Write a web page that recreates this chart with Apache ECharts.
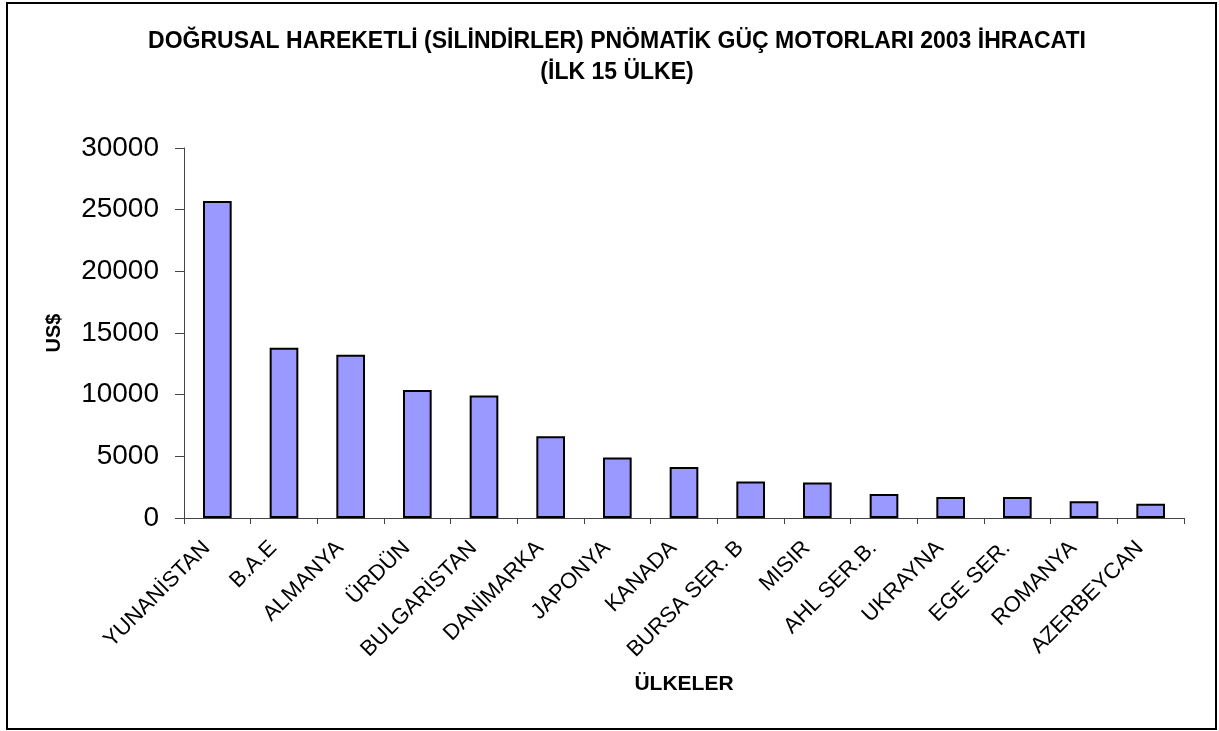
<!DOCTYPE html>
<html>
<head>
<meta charset="utf-8">
<title>Pnömatik güç motorları 2003 ihracatı</title>
<script src="https://cdn.jsdelivr.net/npm/echarts@6/dist/echarts.min.js"></script>
<style>
  html, body { margin: 0; padding: 0; background: #fff; }
  #chart { width: 1219px; height: 731px; }
</style>
</head>
<body>
<div id="chart"></div>
<script>
// ülkeler ve ihracat değerleri (US$)
const countries = ['YUNANİSTAN', 'B.A.E', 'ALMANYA', 'ÜRDÜN', 'BULGARİSTAN', 'DANİMARKA', 'JAPONYA', 'KANADA',
  'BURSA SER. B', 'MISIR', 'AHL SER.B.', 'UKRAYNA', 'EGE SER.', 'ROMANYA', 'AZERBEYCAN'];
const exports2003 = [25700, 13800, 13230, 10370, 9940, 6630, 4900, 4140, 2950, 2870, 1950, 1700, 1700, 1350, 1160];
const yTicks = [0, 5000, 10000, 15000, 20000, 25000, 30000];

const font = 'Liberation Sans, Arial, sans-serif';
const chart = echarts.init(document.getElementById('chart'), null, { renderer: 'canvas' });

const option = {
  backgroundColor: '#fff',
  animation: false,
  title: {
    text: 'DOĞRUSAL HAREKETLİ (SİLİNDİRLER) PNÖMATİK GÜÇ MOTORLARI 2003 İHRACATI\n(İLK 15 ÜLKE)',
    left: 612,
    top: 21,
    textAlign: 'center',
    textStyle: {
      fontFamily: font,
      fontSize: 23,
      fontWeight: 'bold',
      color: '#000',
      lineHeight: 31
    }
  },
  graphic: [{
    type: 'rect',
    shape: { x: 7, y: 3, width: 1209, height: 726 },
    style: { fill: null, stroke: '#000', lineWidth: 2 },
    silent: true
  }],
  grid: {
    left: 184,
    right: 35,
    top: 148,
    bottom: 213
  },
  xAxis: {
    type: 'category',
    data: countries,
    name: 'ÜLKELER',
    nameLocation: 'middle',
    nameGap: 156,
    nameMoveOverlap: false,
    nameTextStyle: { fontFamily: font, fontSize: 21, fontWeight: 'bold', color: '#000' },
    axisLine: { lineStyle: { color: '#444', width: 1 } },
    axisTick: { show: true, length: 6, lineStyle: { color: '#444' } },
    axisLabel: {
      interval: 0,
      rotate: 45,
      margin: 16,
      padding: [0, 15, 0, 0],
      fontFamily: font,
      fontSize: 22,
      color: '#000'
    }
  },
  yAxis: {
    type: 'value',
    min: yTicks[0],
    max: yTicks[yTicks.length - 1],
    interval: 5000,
    name: 'US$',
    nameLocation: 'middle',
    nameGap: 120,
    nameMoveOverlap: false,
    nameTextStyle: { fontFamily: font, fontSize: 20, fontWeight: 'bold', color: '#000' },
    axisLine: { show: true, lineStyle: { color: '#444', width: 1 } },
    axisTick: { show: true, length: 9, lineStyle: { color: '#444' } },
    splitLine: { show: false },
    axisLabel: {
      margin: 25,
      fontFamily: font,
      fontSize: 28,
      color: '#000',
      formatter: (v) => String(v)
    }
  },
  series: [{
    type: 'bar',
    data: exports2003,
    barWidth: '43%',
    itemStyle: {
      color: '#9999FF',
      borderColor: '#000',
      borderWidth: 2
    }
  }]
};

chart.setOption(option);
window.addEventListener('resize', () => chart.resize());
</script>
</body>
</html>
